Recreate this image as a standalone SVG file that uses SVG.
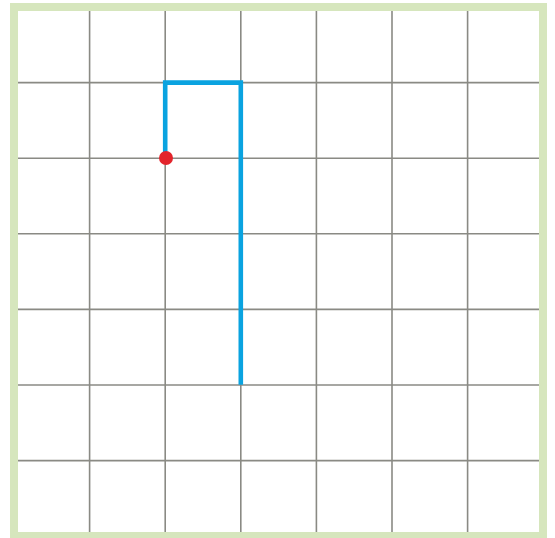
<svg xmlns="http://www.w3.org/2000/svg" width="555" height="538" viewBox="0 0 555 538">
<style>
.grid line{stroke:#8a8a84;stroke-width:1.6}
.path{fill:none;stroke:#0aa3e0;stroke-width:4.6;stroke-linejoin:miter;stroke-linecap:square}
</style>
<rect x="0" y="0" width="555" height="538" fill="#ffffff"/>
<g id="grid" class="grid">
<line x1="89.6" y1="11" x2="89.6" y2="532"/>
<line x1="165.2" y1="11" x2="165.2" y2="532"/>
<line x1="240.8" y1="11" x2="240.8" y2="532"/>
<line x1="316.4" y1="11" x2="316.4" y2="532"/>
<line x1="392" y1="11" x2="392" y2="532"/>
<line x1="467.6" y1="11" x2="467.6" y2="532"/>
<line x1="18" y1="82.6" x2="539" y2="82.6"/>
<line x1="18" y1="158.2" x2="539" y2="158.2"/>
<line x1="18" y1="233.8" x2="539" y2="233.8"/>
<line x1="18" y1="309.4" x2="539" y2="309.4"/>
<line x1="18" y1="385" x2="539" y2="385"/>
<line x1="18" y1="460.6" x2="539" y2="460.6"/>
</g>
<rect id="border" x="14" y="7" width="529" height="529" fill="none" stroke="#d6e6bd" stroke-width="8"/>
<g id="connectors">
<polyline class="path" points="165.2,158.2 165.2,82.6 240.8,82.6 240.8,382.5"/>
</g>
<g id="start">
<circle cx="166" cy="158" r="7" fill="#e3242b"/>
</g>
</svg>
